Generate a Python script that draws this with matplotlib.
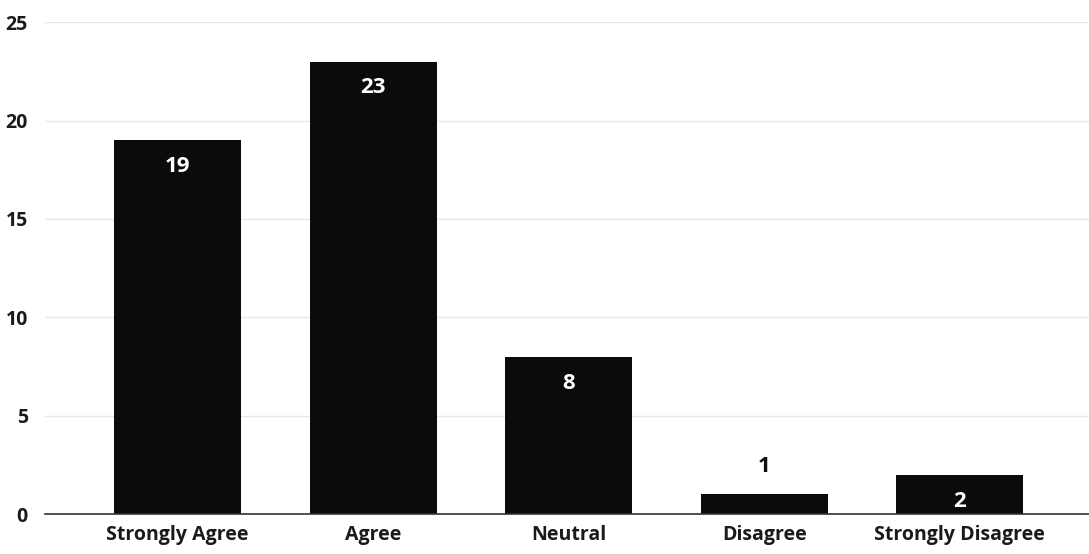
import matplotlib.pyplot as plt
import numpy as np

categories = ["Strongly Agree", "Agree", "Neutral", "Disagree", "Strongly Disagree"]
counts = [19, 23, 8, 1, 2]
y_ticks = [0, 5, 10, 15, 20, 25]

plt.rcParams['font.family'] = ['Open Sans', 'DejaVu Sans']
plt.rcParams['font.weight'] = 'bold'

fig = plt.figure(figsize=(10.89, 5.54), dpi=100)
ax = fig.add_axes([0.041, 0.072, 0.959, 0.888])

x = np.arange(len(categories))
bars = ax.bar(x, counts, width=0.65, color='#0b0b0b', zorder=3)

# short bars get their label on top, the rest inside near the top
for b, v in zip(bars, counts):
    cx = b.get_x() + b.get_width() / 2
    if v <= 1:
        ax.annotate(str(v), (cx, v), xytext=(0, 20), textcoords='offset points',
                    ha='center', va='center', color='#111111', fontsize=16, fontweight='bold')
    else:
        ax.annotate(str(v), (cx, v), xytext=(0, -19), textcoords='offset points',
                    ha='center', va='center', color='white', fontsize=16, fontweight='bold')

ax.set_xlim(-0.68, 4.66)
ax.set_ylim(0, 25)
ax.set_yticks(y_ticks)
ax.set_xticks(x)
ax.set_xticklabels(categories)
ax.tick_params(axis='both', length=0, labelsize=14, colors='#1a1a1a')
ax.tick_params(axis='x', pad=8)
ax.tick_params(axis='y', pad=12)
ax.grid(axis='y', color='#e6e6e6', linewidth=1, zorder=0)
for s in ['top', 'right', 'left']:
    ax.spines[s].set_visible(False)
ax.spines['bottom'].set_color('#333333')
ax.spines['bottom'].set_linewidth(1.2)
ax.spines['bottom'].set_zorder(4)

fig.savefig('out.png', dpi=100)
